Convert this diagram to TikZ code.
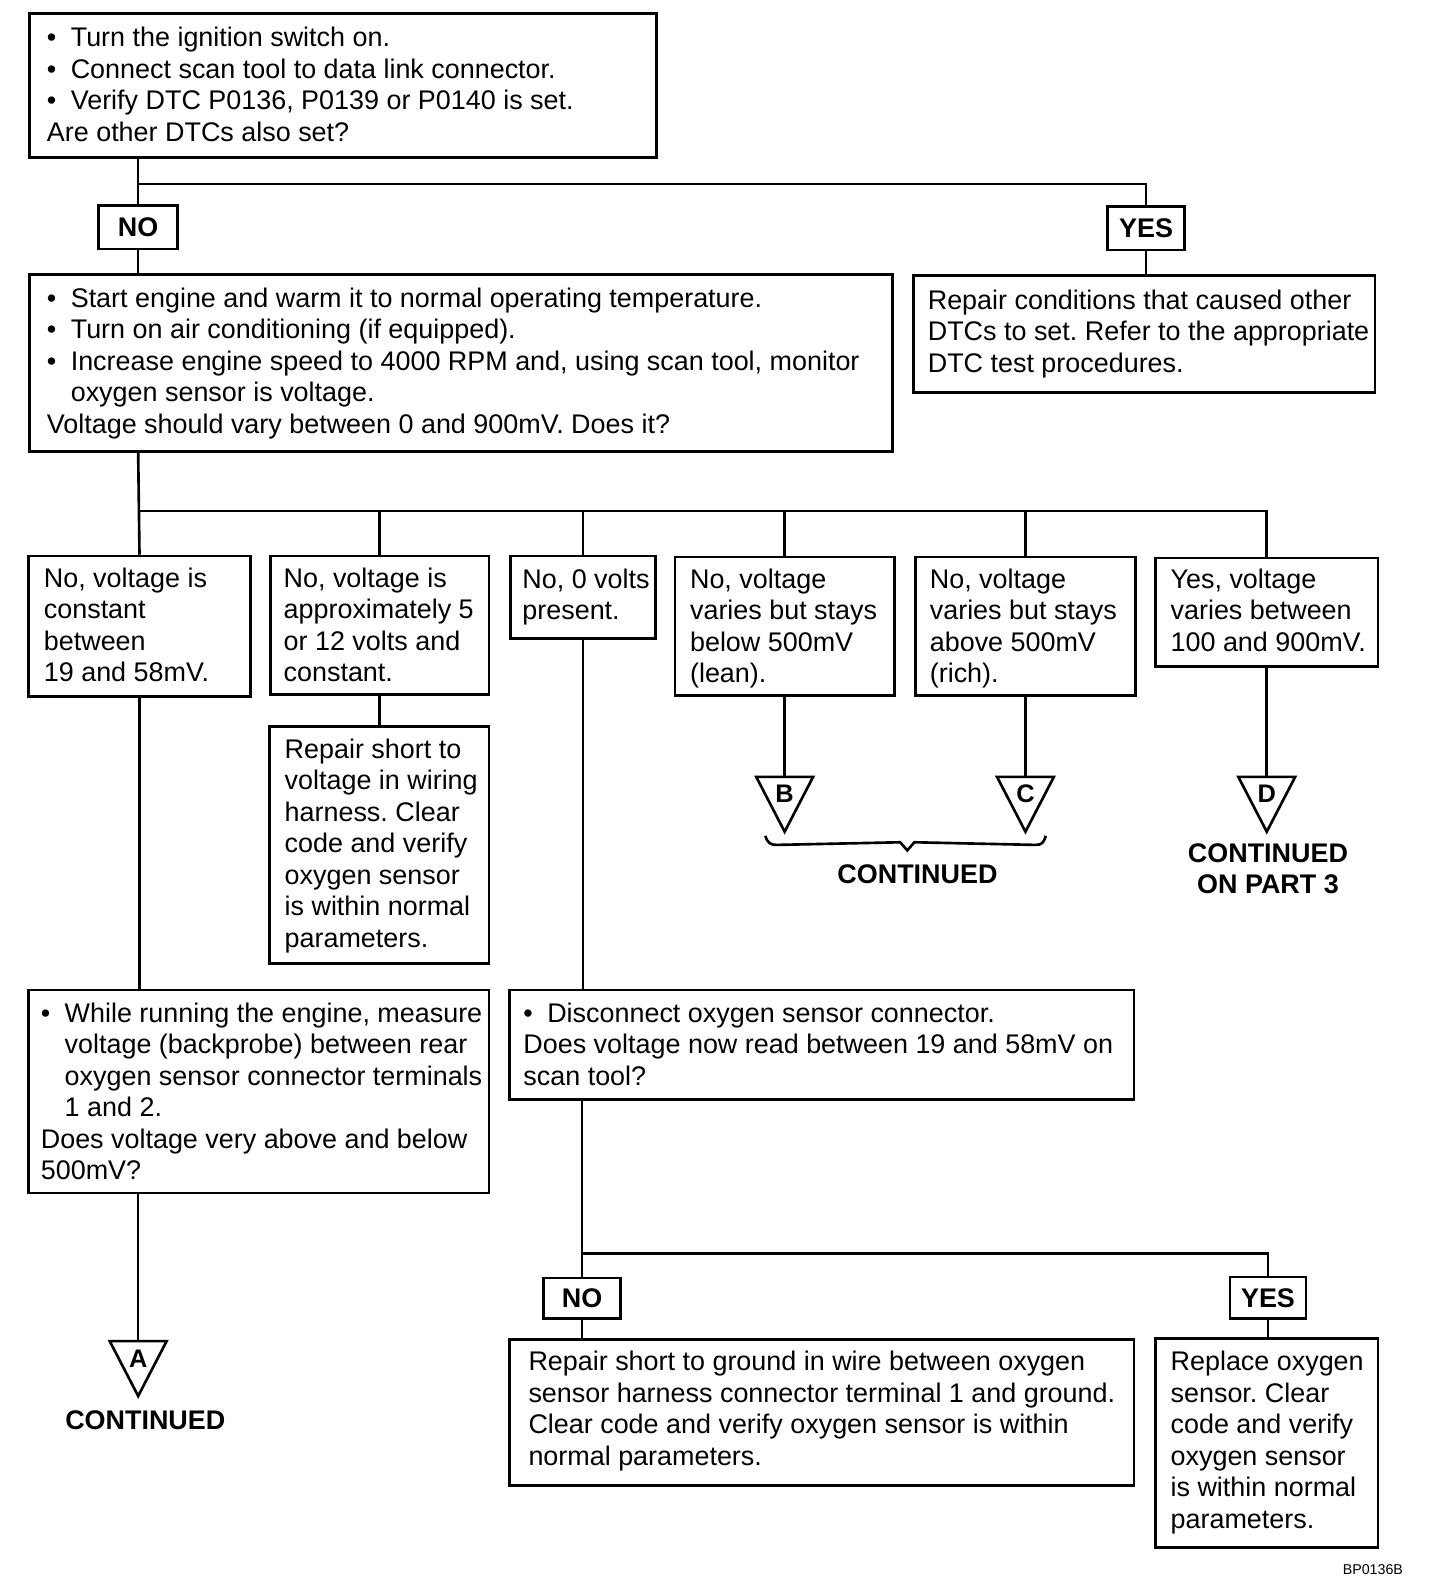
\documentclass[tikz,border=0pt]{standalone}
\usepackage{fontspec}
\setmainfont{Liberation Sans}
\usetikzlibrary{calc}
\frenchspacing
\newcommand{\fs}{\rule{0pt}{24pt}}
\newcommand{\bul}{\makebox[23.5pt][l]{•}}
\newcommand{\ind}{\hspace*{23.5pt}}
\begin{document}
\begin{tikzpicture}[x=1pt,y=-1pt,
  box/.style={draw, line width=2.6pt, anchor=north west, inner sep=0pt},
  txt/.style={anchor=north west, inner sep=0pt, align=left, font=\fontsize{26.5}{31}\selectfont},
  lbl/.style={draw, line width=2.6pt, inner sep=0pt, font=\fontsize{26.5}{31}\selectfont\bfseries},
  conn/.style={line width=2.6pt},
  tri/.style={line width=2.6pt, line join=miter},
  trilet/.style={inner sep=0pt, font=\fontsize{25}{25}\selectfont\bfseries},
  bold/.style={font=\fontsize{26.5}{30}\selectfont\bfseries, align=center, inner sep=0pt}]

\useasboundingbox (0,0) rectangle (1417.3,1568.9);

% ---------- boxes ----------
\node[box, minimum width=617pt, minimum height=142pt] (t1) at (28,12) {};
\node[txt] (t1t) at (46,22) {\fs\bul Turn the ignition switch on.\\
\bul Connect scan tool to data link connector.\\
\bul Verify DTC P0136, P0139 or P0140 is set.\\
Are other DTCs also set?};

\node[lbl, minimum width=78pt, minimum height=43pt] (no1) at (136,223.5) {NO};
\node[lbl, minimum width=76pt, minimum height=43pt] (yes1) at (1128,224.5) {YES};

\node[box, minimum width=849pt, minimum height=174pt] (b2) at (28,269) {};
\node[txt] (b2t) at (46,278) {\fs\bul Start engine and warm it to normal operating temperature.\\
\bul Turn on air conditioning (if equipped).\\
\bul Increase engine speed to 4000 RPM and, using scan tool, monitor\\
\ind oxygen sensor is voltage.\\
Voltage should vary between 0 and 900mV. Does it?};

\node[box, minimum width=454pt, minimum height=115pt] (r1) at (898,270) {};
\node[txt] (r1t) at (913,280) {\fs Repair conditions that caused other\\
DTCs to set. Refer to the appropriate\\
DTC test procedures.};

\node[box, minimum width=218pt, minimum height=138pt] (c1) at (27,546) {};
\node[txt] (c1t) at (43,554) {\fs No, voltage is\\constant\\between\\19 and 58mV.};

\node[box, minimum width=215pt, minimum height=136pt] (c2) at (265,546) {};
\node[txt] (c2t) at (279,554) {\fs No, voltage is\\approximately 5\\or 12 volts and\\constant.};

\node[box, minimum width=143pt, minimum height=81pt] (c3) at (501,546) {};
\node[txt] (c3t) at (514,555) {\fs No, 0 volts\\present.};

\node[box, minimum width=216pt, minimum height=136pt] (c4) at (663,547) {};
\node[txt] (c4t) at (679,555) {\fs No, voltage\\varies but stays\\below 500mV\\(lean).};

\node[box, minimum width=216pt, minimum height=136pt] (c5) at (900,547) {};
\node[txt] (c5t) at (915,555) {\fs No, voltage\\varies but stays\\above 500mV\\(rich).};

\node[box, minimum width=219pt, minimum height=107pt] (c6) at (1136,548) {};
\node[txt] (c6t) at (1152,555) {\fs Yes, voltage\\varies between\\100 and 900mV.};

\node[box, minimum width=216pt, minimum height=233pt] (r2) at (264,714) {};
\node[txt] (r2t) at (280,722) {\fs Repair short to\\voltage in wiring\\harness. Clear\\code and verify\\oxygen sensor\\is within normal\\parameters.};

\node[box, minimum width=453pt, minimum height=200pt] (w) at (27,973) {};
\node[txt] (wt) at (40,982) {\fs\bul While running the engine, measure\\
\ind voltage (backprobe) between rear\\
\ind oxygen sensor connector terminals\\
\ind 1 and 2.\\
Does voltage very above and below\\
500mV?};

\node[box, minimum width=615pt, minimum height=108pt] (d) at (500,973) {};
\node[txt] (dt) at (515,982) {\fs\bul Disconnect oxygen sensor connector.\\
Does voltage now read between 19 and 58mV on\\
scan tool?};

\node[lbl, minimum width=76pt, minimum height=40pt] (no2) at (573,1278) {NO};
\node[lbl, minimum width=75pt, minimum height=41pt] (yes2) at (1248,1277.5) {YES};

\node[box, minimum width=615pt, minimum height=144pt] (r3) at (500,1317) {};
\node[txt] (r3t) at (520,1325) {\fs Repair short to ground in wire between oxygen\\
sensor harness connector terminal 1 and ground.\\
Clear code and verify oxygen sensor is within\\
normal parameters.};

\node[box, minimum width=219pt, minimum height=206pt] (r4) at (1136,1316) {};
\node[txt] (r4t) at (1152,1325) {\fs Replace oxygen\\sensor. Clear\\code and verify\\oxygen sensor\\is within normal\\parameters.};

% ---------- triangles ----------
\coordinate (trB) at ($(c4.south)+(0,79)$);
\coordinate (trC) at ($(c5.south)+(0,79)$);
\coordinate (trD) at ($(c6.south)+(0,107)$);
\coordinate (trA) at (136,1320);
\foreach \t in {trA,trB,trC,trD}{
  \draw[tri] (\t) ++(-28,0) -- ++(56,0) -- ++(-28,54) -- cycle;
}
\node[trilet] (lA) at ($(trA)+(0,17)$) {A};
\node[trilet] (lB) at ($(trB)+(0,17)$) {B};
\node[trilet] (lC) at ($(trC)+(0,17)$) {C};
\node[trilet] (lD) at ($(trD)+(0,17)$) {D};

% ---------- connectors ----------
\coordinate (bus1) at (136,181);
\draw[conn] (t1.south -| bus1) -- (no1.north);
\draw[conn] (bus1) -| (yes1.north);
\draw[conn] (no1.south) -- (no1.south |- b2.north);
\draw[conn] (yes1.south) -- (yes1.south |- r1.north);

\coordinate (bus2) at (136,503);
\draw[conn] (b2.south -| bus2) -- (c1.north);
\draw[conn] (bus2) -- (bus2 -| c6.north) -- (c6.north);
\foreach \c in {c2,c3,c4,c5}{
  \draw[conn] (bus2 -| \c.north) -- (\c.north);
}
\draw[conn] (c2.south) -- (c2.south |- r2.north);
\draw[conn] (c1.south) -- (c1.south |- w.north);
\draw[conn] (c3.south) -- (c3.south |- d.north);
\draw[conn] (c4.south) -- (trB);
\draw[conn] (c5.south) -- (trC);
\draw[conn] (c6.south) -- (trD);
\draw[conn] (w.south -| trA) -- (trA);

\coordinate (bus3) at (573,1234);
\draw[conn] (d.south -| bus3) -- (no2.north);
\draw[conn] (bus3) -| (yes2.north);
\draw[conn] (no2.south) -- (no2.south |- r3.north);
\draw[conn] (yes2.south) -- (yes2.south |- r4.north);

% ---------- brace ----------
\draw[conn, line join=miter] ($(trB)+(-19,58)$) .. controls ($(trB)+(-17,65)$) and ($(trB)+(-14,67)$) .. ($(trB)+(-8,67)$)
  -- (886,829) -- (893,837) -- (900,829) -- ($(trC)+(10,67)$)
  .. controls ($(trC)+(16,67)$) and ($(trC)+(18,65)$) .. ($(trC)+(20,58)$);

% ---------- labels ----------
\node[bold] (contBC) at (903,860) {CONTINUED};
\node[bold] (contD) at (1248,855) {CONTINUED\\ON PART 3};
\node[bold] (contA) at (143,1398) {CONTINUED};
\node[anchor=east, inner sep=0pt, font=\fontsize{14}{14}\selectfont] (code) at (1381,1545) {BP0136B};
\end{tikzpicture}
\end{document}
